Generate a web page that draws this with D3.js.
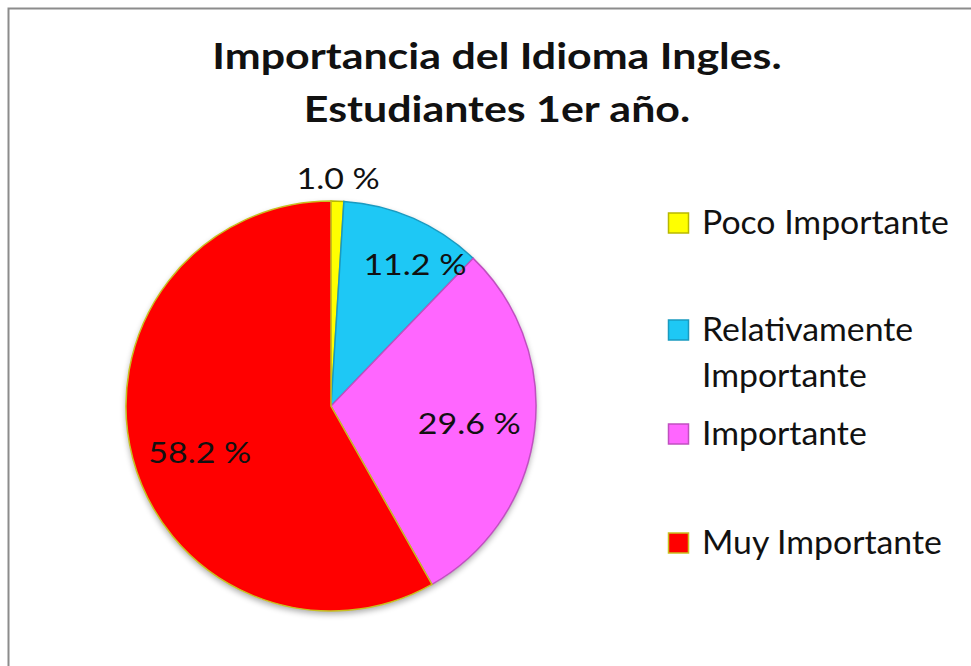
<!DOCTYPE html>
<html>
<head>
<meta charset="utf-8">
<script src="https://cdn.jsdelivr.net/npm/d3@7"></script>
<style>
  body { margin: 0; background: #fff; }
  svg text { font-family: Lato, "Open Sans", sans-serif; fill: #111; }
</style>
</head>
<body>
<div id="chart"></div>
<script>
"use strict";

// categories and values (percent), clockwise from 12 o'clock
var categories = ["Poco Importante", "Relativamente Importante", "Importante", "Muy Importante"];
var values = [1.0, 11.2, 29.6, 58.2];
var sliceColors = ["#ffff00", "#1ec8f5", "#ff66ff", "#ff0000"];
var strokeColors = ["#b8b800", "#1a9ac0", "#c050c0", "#c8c020"];
var legendLines = [["Poco Importante"], ["Relativamente", "Importante"], ["Importante"], ["Muy Importante"]];
var titleLines = ["Importancia del Idioma Ingles.", "Estudiantes 1er año."];

var width = 971, height = 666;
var cx = 331, cy = 406, radius = 205;

// label placement tweaks (fraction of radius, angle shift in degrees)
var labelRadius = [1.11, 0.8, 0.68, 0.68];
var labelShift = [0, 7, 0, -5];

var svg = d3.select("#chart").append("svg")
  .attr("width", width)
  .attr("height", height);

// chart frame
svg.append("rect")
  .attr("x", 8.5).attr("y", 8.5)
  .attr("width", width + 20).attr("height", height + 20)
  .attr("fill", "#fff")
  .attr("stroke", "#8c8c8c")
  .attr("stroke-width", 2);

// the source image is a little stretched horizontally
function place(x, y, sx) {
  return "translate(" + x + "," + y + ") scale(" + sx + ",1)";
}

// title
svg.append("g").selectAll("text")
  .data(titleLines)
  .join("text")
  .attr("transform", function (d, i) { return place(497, 69 + i * 53, 1.16); })
  .attr("text-anchor", "middle")
  .attr("font-size", 37)
  .attr("font-weight", "bold")
  .text(function (d) { return d; });

// shadow filter
var defs = svg.append("defs");
var f = defs.append("filter").attr("id", "shadow")
  .attr("x", "-10%").attr("y", "-10%").attr("width", "120%").attr("height", "125%");
f.append("feGaussianBlur").attr("in", "SourceAlpha").attr("stdDeviation", 3);
f.append("feOffset").attr("dx", 0).attr("dy", 3).attr("result", "b");
f.append("feComponentTransfer").append("feFuncA").attr("type", "linear").attr("slope", 0.35);
var merge = f.append("feMerge");
merge.append("feMergeNode");
merge.append("feMergeNode").attr("in", "SourceGraphic");

var pie = d3.pie().sort(null).value(function (d) { return d; });
var arcs = pie(values);
var arc = d3.arc().innerRadius(0).outerRadius(radius);

var g = svg.append("g")
  .attr("transform", "translate(" + cx + "," + cy + ")");

g.append("circle").attr("r", radius).attr("fill", "#ddd").attr("filter", "url(#shadow)");

g.selectAll("path.slice")
  .data(arcs)
  .join("path")
  .attr("class", "slice")
  .attr("d", arc)
  .attr("fill", function (d, i) { return sliceColors[i]; })
  .attr("stroke", function (d, i) { return strokeColors[i]; })
  .attr("stroke-width", 1.5);

// data labels
g.selectAll("text.lbl")
  .data(arcs)
  .join("text")
  .attr("class", "lbl")
  .attr("transform", function (d, i) {
    var a = (d.startAngle + d.endAngle) / 2 + labelShift[i] * Math.PI / 180;
    var r = radius * labelRadius[i];
    return place(r * Math.sin(a), -r * Math.cos(a), 1.17);
  })
  .attr("dy", "0.35em")
  .attr("text-anchor", "middle")
  .attr("font-size", 29)
  .text(function (d) { return d3.format(".1f")(d.data) + " %"; });

// legend
var legendY = [223, 330, 434, 543];
var legend = svg.append("g").selectAll("g")
  .data(categories)
  .join("g")
  .attr("transform", function (d, i) { return "translate(668," + legendY[i] + ")"; });

legend.append("rect")
  .attr("x", 0.5).attr("y", -10)
  .attr("width", 20).attr("height", 20)
  .attr("fill", function (d, i) { return sliceColors[i]; })
  .attr("stroke", function (d, i) { return strokeColors[i]; })
  .attr("stroke-width", 1.5);

legend.append("g")
  .attr("transform", place(34, 0, 1.056))
  .append("text")
  .attr("font-size", 32)
  .selectAll("tspan")
  .data(function (d, i) { return legendLines[i]; })
  .join("tspan")
  .attr("x", 0)
  .attr("y", function (d, j) { return 11 + j * 46; })
  .text(function (d) { return d; });
</script>
</body>
</html>
